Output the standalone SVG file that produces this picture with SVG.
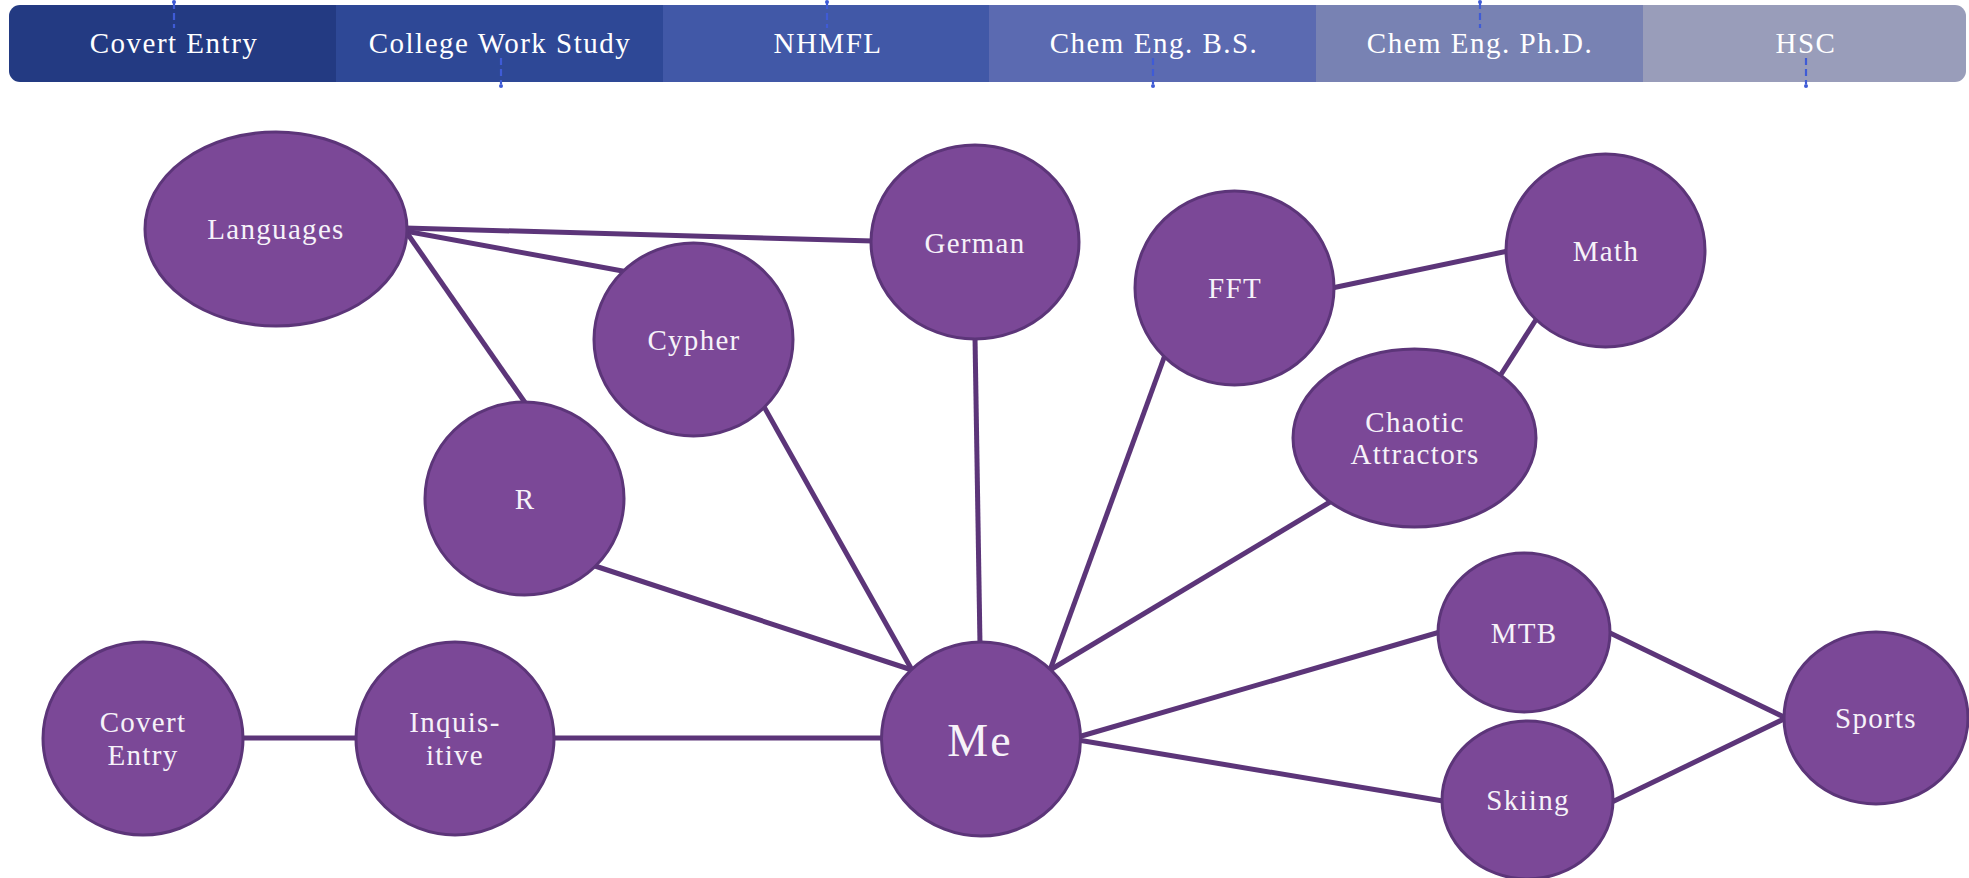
<svg xmlns="http://www.w3.org/2000/svg" width="1969" height="878" viewBox="0 0 1969 878">
  <defs>
    <clipPath id="barClip">
      <rect x="9" y="5" width="1957" height="77" rx="11" ry="11"/>
    </clipPath>
  </defs>
  <style>
    .bar-label { font-family: "Liberation Serif", "Times New Roman", serif; font-size: 29px; letter-spacing: 1.5px; fill: #ffffff; text-anchor: middle; }
    .tick { stroke: #3f5bd6; stroke-width: 2.2; stroke-dasharray: 7 4; fill: none; }
    .tick-dot { fill: #3f5bd6; }
    .edge { stroke: #5c3579; stroke-width: 5; stroke-linecap: butt; fill: none; }
    .node { fill: #7b4897; stroke: #5c3579; stroke-width: 3; }
    .label { font-family: "Liberation Serif", "Times New Roman", serif; font-size: 29px; letter-spacing: 1.3px; fill: #f6f2f9; text-anchor: middle; }
    .label-big { font-size: 46px; letter-spacing: 2px; }
  </style>

  <rect width="1969" height="878" fill="#ffffff"/>

  <!-- timeline bar -->
  <g id="timeline">
    <g clip-path="url(#barClip)">
      <rect x="9" y="5" width="327" height="77" fill="#233a82"/>
      <rect x="336" y="5" width="327" height="77" fill="#2e4896"/>
      <rect x="663" y="5" width="326" height="77" fill="#4158a7"/>
      <rect x="989" y="5" width="327" height="77" fill="#5b6ab1"/>
      <rect x="1316" y="5" width="327" height="77" fill="#7882b3"/>
      <rect x="1643" y="5" width="323" height="77" fill="#999dba"/>
    </g>
    <!-- tick marks -->
    <g id="ticks">
      <line class="tick" x1="174" y1="2" x2="174" y2="28"/>
      <circle class="tick-dot" cx="174" cy="2" r="2"/>
      <line class="tick" x1="501" y1="58" x2="501" y2="84"/>
      <circle class="tick-dot" cx="501" cy="86" r="2"/>
      <line class="tick" x1="827" y1="2" x2="827" y2="28"/>
      <circle class="tick-dot" cx="827" cy="2" r="2"/>
      <line class="tick" x1="1153" y1="58" x2="1153" y2="84"/>
      <circle class="tick-dot" cx="1153" cy="86" r="2"/>
      <line class="tick" x1="1480" y1="2" x2="1480" y2="28"/>
      <circle class="tick-dot" cx="1480" cy="2" r="2"/>
      <line class="tick" x1="1806" y1="58" x2="1806" y2="84"/>
      <circle class="tick-dot" cx="1806" cy="86" r="2"/>
    </g>
    <text class="bar-label" x="174" y="53">Covert Entry</text>
    <text class="bar-label" x="500" y="53">College Work Study</text>
    <text class="bar-label" x="828" y="53">NHMFL</text>
    <text class="bar-label" x="1154" y="53">Chem Eng. B.S.</text>
    <text class="bar-label" x="1480" y="53">Chem Eng. Ph.D.</text>
    <text class="bar-label" x="1806" y="53">HSC</text>
  </g>

  <!-- connectors -->
  <g id="connectors">
    <line class="edge" x1="405" y1="228" x2="873" y2="241"/>
    <line class="edge" x1="405" y1="231" x2="628" y2="272"/>
    <line class="edge" x1="407" y1="233" x2="526" y2="404"/>
    <line class="edge" x1="763" y1="405" x2="912" y2="670"/>
    <line class="edge" x1="595" y1="566" x2="912" y2="670"/>
    <line class="edge" x1="975" y1="337" x2="980" y2="645"/>
    <line class="edge" x1="1165" y1="355" x2="1050" y2="670"/>
    <line class="edge" x1="1330" y1="502" x2="1050" y2="670"/>
    <line class="edge" x1="1332" y1="288" x2="1508" y2="251"/>
    <line class="edge" x1="1500" y1="376" x2="1537" y2="318"/>
    <line class="edge" x1="1078" y1="737" x2="1440" y2="632"/>
    <line class="edge" x1="1078" y1="740" x2="1443" y2="801"/>
    <line class="edge" x1="1608" y1="632" x2="1786" y2="718"/>
    <line class="edge" x1="1612" y1="802" x2="1786" y2="718"/>
    <line class="edge" x1="241" y1="738" x2="357" y2="738"/>
    <line class="edge" x1="552" y1="738" x2="884" y2="738"/>
  </g>

  <!-- nodes -->
  <g id="node-languages">
    <ellipse class="node" cx="276" cy="229" rx="131" ry="97"/>
    <text class="label" x="276" y="239">Languages</text>
  </g>
  <g id="node-german">
    <ellipse class="node" cx="975" cy="242" rx="104" ry="97"/>
    <text class="label" x="975" y="253">German</text>
  </g>
  <g id="node-cypher">
    <ellipse class="node" cx="693.5" cy="339.5" rx="99.5" ry="96.5"/>
    <text class="label" x="694" y="350">Cypher</text>
  </g>
  <g id="node-r">
    <ellipse class="node" cx="524.5" cy="498.5" rx="99.5" ry="96.5"/>
    <text class="label" x="525" y="509">R</text>
  </g>
  <g id="node-fft">
    <ellipse class="node" cx="1234.5" cy="288" rx="99.5" ry="97"/>
    <text class="label" x="1235" y="298">FFT</text>
  </g>
  <g id="node-math">
    <ellipse class="node" cx="1605.5" cy="250.5" rx="99.5" ry="96.5"/>
    <text class="label" x="1606" y="261">Math</text>
  </g>
  <g id="node-chaotic">
    <ellipse class="node" cx="1414.5" cy="438" rx="121.5" ry="89"/>
    <text class="label" x="1415" y="432">Chaotic</text>
    <text class="label" x="1415" y="464">Attractors</text>
  </g>
  <g id="node-mtb">
    <ellipse class="node" cx="1524" cy="632.5" rx="86" ry="79.5"/>
    <text class="label" x="1524" y="643">MTB</text>
  </g>
  <g id="node-skiing">
    <ellipse class="node" cx="1527.5" cy="800" rx="85.5" ry="79"/>
    <text class="label" x="1528" y="810">Skiing</text>
  </g>
  <g id="node-sports">
    <ellipse class="node" cx="1876" cy="718" rx="92" ry="86"/>
    <text class="label" x="1876" y="728">Sports</text>
  </g>
  <g id="node-me">
    <ellipse class="node" cx="981" cy="739" rx="99.5" ry="97"/>
    <text class="label label-big" x="980" y="756">Me</text>
  </g>
  <g id="node-covert-entry">
    <ellipse class="node" cx="143" cy="738.5" rx="100" ry="96.5"/>
    <text class="label" x="143" y="732">Covert</text>
    <text class="label" x="143" y="765">Entry</text>
  </g>
  <g id="node-inquisitive">
    <ellipse class="node" cx="455" cy="738.5" rx="99" ry="96.5"/>
    <text class="label" x="455" y="732">Inquis-</text>
    <text class="label" x="455" y="765">itive</text>
  </g>
</svg>
